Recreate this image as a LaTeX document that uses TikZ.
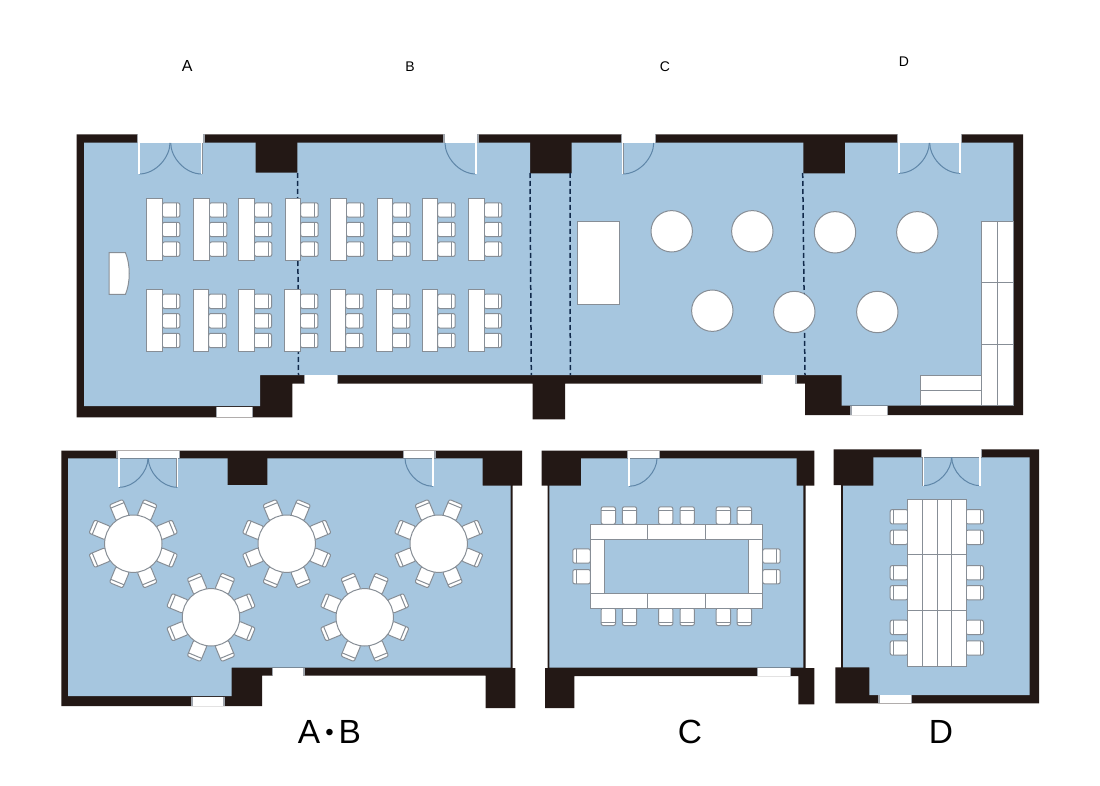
\documentclass[tikz,border=0pt]{standalone}
\usepackage{fontspec}
\setmainfont{Liberation Sans}
\definecolor{wallblack}{HTML}{231815}
\definecolor{floorblue}{HTML}{A6C6DF}
\definecolor{furnline}{HTML}{878E96}
\definecolor{swingblue}{HTML}{5F86A8}
\definecolor{dashnavy}{HTML}{10294A}
\tikzset{
	wallfill/.style={fill=wallblack},
	floorfill/.style={fill=floorblue},
	gapline/.style={furnline!80,line width=1.1pt},
	jambline/.style={furnline,line width=0.6pt,double=white,double distance=1.1pt},
	swingline/.style={swingblue,line width=1pt},
	partition/.style={dashnavy,line width=1.5pt,dash pattern=on 5pt off 3pt},
	furn/.style={draw=furnline,fill=white,line width=1pt},
	smalllabel/.style={text=black,font=\fontsize{14}{14}\selectfont,inner sep=0pt},
	biglabel/.style={text=black,font=\fontsize{33.5}{34}\selectfont,inner sep=0pt},
	seat/.pic={
		\draw[furn,rounded corners=2pt] (0,-7.2) rectangle (17.5,7.2);
		\draw[furnline,line width=1pt] (14,-7.2) -- (14,7.2);
	},
	deskrow/.pic={
		\foreach \cy in {11.3,30.8,50.5}
			\pic at (15.7,\cy) {seat};
		\draw[furn] (0,0) rectangle (15.7,61.5);
	},
	roundset/.pic={
		\foreach \a in {22.5,67.5,...,337.5}
			\pic[rotate=-\a] at (\a:27.5) {seat};
		\draw[furn] (0,0) circle (28.7);
	},
}
\begin{document}
\begin{tikzpicture}[x=1pt,y=-1pt]
	\useasboundingbox (0,0) rectangle (1100,786);

	% upper plan
	\fill[wallfill] (76.5,134.5) -- (1023,134.5) -- (1023,415) -- (805,415) -- (805,383.7) -- (565,383.7) -- (565,419.3) -- (532.7,419.3) -- (532.7,383.7) -- (292.3,383.7) -- (292.3,417.3) -- (76.5,417.3) -- cycle;
	\fill[floorfill] (84,142.7) -- (255.5,142.7) -- (255.5,172.7) -- (297.3,172.7) -- (297.3,142.7) -- (530,142.7) -- (530,173.3) -- (571.7,173.3) -- (571.7,142.7) -- (803.3,142.7) -- (803.3,173.3) -- (845,173.3) -- (845,142.7) -- (1013.3,142.7) -- (1013.3,405.7) -- (841.7,405.7) -- (841.7,375) -- (260,375) -- (260,406) -- (84,406) -- cycle;
	\draw[partition] (297.5,173) -- (298.5,375);
	\draw[partition] (530,173) -- (531.3,375);
	\draw[partition] (570,173) -- (570.3,375);
	\draw[partition] (802.7,173) -- (805,375);

	% lower plan A B
	\fill[wallfill] (61.3,450.7) -- (522,450.7) -- (522,485.7) -- (512.7,485.7) -- (512.7,668) -- (515.3,668) -- (515.3,708) -- (485.7,708) -- (485.7,675.7) -- (262,675.7) -- (262,706) -- (61.3,706) -- cycle;
	\fill[floorfill] (68,458.3) -- (227.7,458.3) -- (227.7,485) -- (267.3,485) -- (267.3,458.3) -- (482.7,458.3) -- (482.7,485.7) -- (510.7,485.7) -- (510.7,667.5) -- (231.7,667.5) -- (231.7,696) -- (68,696) -- cycle;

	% lower plan C
	\fill[wallfill] (541.7,450.7) -- (814.3,450.7) -- (814.3,485.7) -- (805.7,485.7) -- (805.7,668) -- (814.3,668) -- (814.3,704.3) -- (798.3,704.3) -- (798.3,676) -- (574.3,676) -- (574.3,708) -- (545,708) -- (545,668) -- (547.7,668) -- (547.7,485.7) -- (541.7,485.7) -- cycle;
	\fill[floorfill] (581,458.3) -- (796.7,458.3) -- (796.7,485.7) -- (803.3,485.7) -- (803.3,667.5) -- (549.3,667.5) -- (549.3,485.7) -- (581,485.7) -- cycle;

	% lower plan D
	\fill[wallfill] (833.7,449.3) -- (1039,449.3) -- (1039,703.3) -- (835.3,703.3) -- (835.3,667.3) -- (841,667.3) -- (841,485) -- (833.7,485) -- cycle;
	\fill[floorfill] (873.3,457.3) -- (1029.7,457.3) -- (1029.7,695) -- (869.3,695) -- (869.3,667.3) -- (843,667.3) -- (843,485.7) -- (873.3,485.7) -- cycle;

	% door openings
	\foreach \xa/\ya/\xb/\yb in {137.3/134.5/204/143,444/134.5/478/143,621.3/134.5/655.7/143,897.3/134.5/961.7/143,304.3/374.7/337.3/383.7,762/375/796/384,216.7/406.7/252.3/417.3,851/406/887.3/415,117/450.7/179.3/458.3,403.3/450.7/435/458.3,272.7/668/304/676,192/696.7/224/706,627.3/450.7/659.3/458.3,757.3/668/790.7/676,921.7/449.3/981.7/457.3,879/695/911.7/703.3}{
		\fill[white] (\xa,\ya) rectangle (\xb,\yb);
		\draw[gapline] (\xa,\ya) -- (\xa,\yb) (\xb,\ya) -- (\xb,\yb);
	}

	% door leaves, hinge x / wall y / leaf length / direction
	\foreach \hx/\hy/\r/\s in {139/143/31/1,201.7/143/31/-1,476/143/31/-1,622.7/143/31/1,899/143/30.3/1,960/143/30.3/-1,119/458.3/29/1,177.3/458.3/29/-1,433/458.3/28/-1,629/458.3/28/1,923.3/457.3/28.3/1,980/457.3/28.3/-1}{
		\draw[swingline] (\hx,\hy+\r) .. controls +(\s*0.55*\r,0) and (\hx+\s*\r,\hy+0.45*\r) .. (\hx+\s*\r,\hy);
		\draw[jambline] (\hx,\hy) -- ++(0,\r);
	}

	% upper plan furniture
	\foreach \dx in {146.7,193.7,238.7,285,330.7,377,422,468.7}
		\pic at (\dx,198.7) {deskrow};
	\foreach \dx in {146.7,193,238.3,284.7,330,376.7,422,468.3}
		\pic at (\dx,290) {deskrow};
	\draw[furn] (109,252.7) -- (125.5,252.7) .. controls (130.5,265) and (130.5,282) .. (125.5,294.3) -- (109,294.3) -- cycle;
	\draw[furn] (577.7,222) rectangle (619.3,304);
	\foreach \cx/\cy in {671.7/231.3,752.3/231.3,712.3/310.7,794.3/312,877.3/312,835/232.3,917.3/232.3}
		\draw[furn] (\cx,\cy) circle (20.7);
	\draw[furn] (981.7,221.7) rectangle (1013.3,405.7);
	\draw[furn] (920.3,375) rectangle (981.7,405.7);
	\draw[furnline,line width=1pt] (997.3,221.7) -- (997.3,405.7) (981.7,283) -- (1013.3,283) (981.7,344.7) -- (1013.3,344.7) (920.3,390) -- (981.7,390);

	% round tables
	\foreach \cx/\cy in {133.3/543.7,286.7/543.7,211/617.3,438.7/543.7,364.7/617.3}
		\pic at (\cx,\cy) {roundset};

	% meeting table C
	\foreach \sx in {608.3,629.5,665.7,687.2,723.3,744.3}{
		\pic[rotate=90] at (\sx,524.3) {seat};
		\pic[rotate=-90] at (\sx,608) {seat};
	}
	\foreach \sy in {556,576.7}{
		\pic[rotate=180] at (590.3,\sy) {seat};
		\pic at (762.7,\sy) {seat};
	}
	\draw[furn] (590.3,524.3) rectangle (762.7,608);
	\draw[furn,fill=floorblue] (604.7,539) rectangle (748,593.7);
	\draw[furnline,line width=1pt] (647.7,524.3) -- (647.7,539) (705,524.3) -- (705,539) (647.7,593.7) -- (647.7,608) (705,593.7) -- (705,608) (590.3,539) -- (604.7,539) (590.3,593.7) -- (604.7,593.7) (748,539) -- (762.7,539) (748,593.7) -- (762.7,593.7);

	% long table D
	\foreach \sy in {516.7,537.3,572.7,592.7,627.3,648}{
		\pic[rotate=180] at (907.7,\sy) {seat};
		\pic at (966,\sy) {seat};
	}
	\draw[furn] (907.7,499) rectangle (966,666);
	\draw[furnline,line width=1pt] (922.3,499) -- (922.3,666) (937,499) -- (937,666) (951.7,499) -- (951.7,666) (907.7,554.3) -- (966,554.3) (907.7,610) -- (966,610);

	% labels
	\node[smalllabel,font=\fontsize{16}{16}\selectfont] (labelA) at (187.3,65.5) {A};
	\node[smalllabel] (labelB) at (410,66.3) {B};
	\node[smalllabel] (labelC) at (665,67) {C};
	\node[smalllabel] (labelD) at (904,62) {D};
	\node[biglabel] (labelAB) at (329.5,732) {A\kern5pt\raisebox{3.4pt}{\fontsize{24}{24}\selectfont •}\kern5pt B};
	\node[biglabel] (labelCC) at (690,732) {C};
	\node[biglabel] (labelDD) at (941,732) {D};
\end{tikzpicture}
\end{document}
